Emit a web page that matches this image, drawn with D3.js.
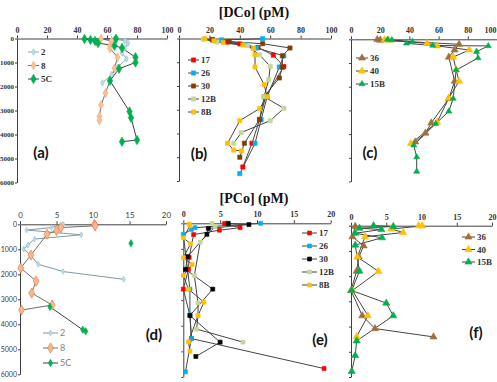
<!DOCTYPE html>
<html>
<head>
<meta charset="utf-8">
<script src="https://cdn.jsdelivr.net/npm/d3@7"></script>
<style>
  body { margin: 0; background: #fff; }
  svg { display: block; }
  .serif text { font-family: "Liberation Serif", "DejaVu Serif", serif; }
  .sans text { font-family: Lato, "Liberation Sans", sans-serif; }
</style>
</head>
<body>
<div id="chart"></div>
<script>
// ---- data: [concentration (pM), depth (m)] ----
var dcoTicks = [0, 20, 40, 60, 80, 100];
var pcoTicks = [0, 5, 10, 15, 20];
var depthTicks = [0, 1000, 2000, 3000, 4000, 5000, 6000];

// (a) DCo
var a_2  = [[65,20],[72,100],[74,200],[72,400],[70,600],[73,850],[67,1200],[63,1500],[57,1850]];
var a_8  = [[56,20],[63,100],[62,300],[62,410],[67,780],[65,1240],[59,2270],[56,2770],[55,3240],[55,3410]];
var a_5C = [[66,10],[45,20],[49,60],[52,100],[54,190],[65,300],[70,400],[79,780],[79,1000],[68,1260],[62,1760],[75,3040],[76,3300],[80,4230],[70,4300]];

// (b) DCo
var b_17  = [[22,40],[32,150],[40,230],[52,380],[62,700],[69,1180],[57,2450],[53,3420],[48,4410],[42,5410]];
var b_26  = [[55,10],[28,60],[44,250],[51,400],[69,730],[66,1200],[58,2450],[54,3420],[50,4410],[40,5690]];
var b_30  = [[22,60],[33,130],[55,220],[73,400],[68,730],[68,1210],[66,1660],[56,2450],[53,3410],[43,4410],[40,5000]];
var b_12B = [[16,30],[25,150],[45,300],[53,690],[60,1170],[59,1730],[56,2450],[69,2940],[60,3460],[41,3960],[36,4410]];
var b_8B  = [[17,0],[23,100],[29,170],[42,270],[49,420],[50,690],[50,1200],[56,1940],[58,2450],[53,2950],[40,3460],[32,4410],[36,4700],[41,4730]];

// (c) DCo
var c_36  = [[18,10],[20,40],[74,210],[71,450],[67,750],[71,1770],[67,2500],[55,3530],[51,3960],[44,4330]];
var c_40  = [[23,20],[26,40],[52,170],[59,280],[81,450],[70,750],[72,1280],[74,1770],[67,2480],[59,3500],[41,4400]];
var c_15B = [[25,10],[28,30],[42,100],[38,170],[56,260],[94,280],[86,520],[87,790],[72,1300],[70,2500],[67,3040],[58,3560],[43,4470],[45,4970],[45,5580]];

// (d) PCo
var d_2  = [[5.9,0],[4.3,130],[0.9,230],[8.4,420],[2.0,590],[1.1,830],[0.5,990],[1.5,1250],[2.5,1600],[5.9,1890],[14.2,2200]];
var d_8  = [[10.2,0],[10.3,60],[5.6,130],[5.0,250],[3.7,400],[1.5,1230],[0.1,1750],[2.2,2270],[1.6,2750],[4.4,3230],[0.2,3430]];
var d_5C = [[15.2,760], null, [4.1,3300],[8.6,4220],[9.0,4280]];

// (e) PCo
var e_17  = [[5.6,10],[7.7,170],[4.9,270],[1.4,440],[0.8,1330],[0.7,1800],[0,2570],[0.9,3600],[1.1,4500],[19.1,5670]];
var e_26  = [[10.5,0],[1.6,170],[1.1,240],[0,430],[0.9,2570],[0.9,3570],[1.1,4500],[0.3,5800]];
var e_30  = [[6.1,0],[8.9,50],[3.4,200],[3.2,430],[0.6,1300],[0.3,1800],[4.0,2570],[0.9,3600],[5.0,4640],[1.7,5200]];
var e_12B = [[3.9,0],[4.3,130],[2.3,730],[1.5,2040],[2.0,3110],[2.0,3600],[1.8,4130],[8.1,4640]];
var e_8B  = [[0.8,30],[0.9,100],[0,570],[1.0,800],[0,1340],[1.2,1610],[0,2040],[0.7,2570],[2.8,3080],[2.0,3600],[0.7,4630],[0.9,4990]];

// (f) PCo
var f_36  = [[0.6,30],[0.2,440],[1.8,800],[1.1,1240],[0.8,1800],[0,2570],[1.6,3570],[3.4,4080],[11.7,4410]];
var f_40  = [[9.6,0],[10.1,10],[5.7,130],[7.4,270],[2.0,440],[0.9,1240],[3.9,1810],[0.2,2570],[2.4,3570],[0.8,4400]];
var f_15B = [[3.2,0],[6.0,30],[1.2,100],[4.3,150],[0.6,300],[4.4,480],[0.6,770],[1.2,1800],[0.1,2570],[5.0,3070],[6.0,3570],[0.8,4570],[0.6,5150],[0.1,5780]];

var svg = d3.select("#chart").append("svg")
  .attr("width", 497).attr("height", 382);

var LINE = "#454545";

function panel(cfg) {
  var g = svg.append("g").attr("class", cfg.font);
  var x = d3.scaleLinear().domain([0, cfg.xTicks[cfg.xTicks.length - 1]]).range([cfg.x0, cfg.x1]);
  var y = d3.scaleLinear().domain([0, 6000]).range([cfg.y0, cfg.y1]);

  var xa = g.append("g").attr("transform", "translate(0," + cfg.y0 + ")")
    .call(d3.axisTop(x).tickValues(cfg.xTicks).tickSize(3).tickPadding(3).tickSizeOuter(0));
  var ya = g.append("g").attr("transform", "translate(" + cfg.x0 + ",0)")
    .call(d3.axisLeft(y).tickValues(depthTicks).tickSize(2).tickPadding(1).tickSizeOuter(0)
      .tickFormat(cfg.yLabels ? d3.format("d") : ""));
  [xa, ya].forEach(function(a) {
    a.select(".domain").attr("stroke", "#404040");
    a.selectAll(".tick line").attr("stroke", "#404040");
    a.selectAll("text").attr("fill", cfg.tickColor).style("font-size", "8px")
      .style("font-weight", cfg.font == "serif" ? "bold" : "normal");
  });
  ya.selectAll("text").style("font-size", "7px");
  // last top label at the very edge of the picture
  if (cfg.x1 > 490) {
    xa.selectAll(".tick text").filter(function(d) { return d == 100; })
      .attr("text-anchor", "end").attr("x", 497 - cfg.x1 - 1);
  }

  var line = d3.line().defined(function(d) { return d; })
    .x(function(d) { return x(d[0]); }).y(function(d) { return y(d[1]); });

  cfg.series.forEach(function(s) {
    g.append("path").attr("d", line(s.data))
      .attr("fill", "none").attr("stroke", s.line || LINE).attr("stroke-width", 1);
  });
  cfg.series.forEach(function(s) {
    var sym = d3.symbol().type(s.shape).size(s.size);
    g.selectAll(null).data(s.data.filter(function(d) { return d; })).enter()
      .append("path").attr("d", sym)
      .attr("transform", function(d) { return "translate(" + x(d[0]) + "," + y(d[1]) + ")"; })
      .attr("fill", s.color).attr("stroke", s.edge || s.color).attr("stroke-width", 0.6);
  });

  // legend
  var lg = g.append("g");
  cfg.series.forEach(function(s, i) {
    var ly = cfg.legY + i * cfg.legStep;
    lg.append("line").attr("x1", cfg.legX).attr("x2", cfg.legX + cfg.legW)
      .attr("y1", ly).attr("y2", ly).attr("stroke", s.line || LINE).attr("stroke-width", 1);
    lg.append("path").attr("d", d3.symbol().type(s.shape).size(s.size)())
      .attr("transform", "translate(" + (cfg.legX + cfg.legW / 2) + "," + ly + ")")
      .attr("fill", s.color).attr("stroke", s.edge || s.color).attr("stroke-width", 0.6);
    lg.append("text").attr("x", cfg.legX + cfg.legW + 2).attr("y", ly).attr("dy", "0.35em")
      .attr("fill", cfg.legColor).style("font-size", "9px")
      .style("font-weight", cfg.font == "serif" ? "bold" : "normal")
      .text(s.name);
  });

  svg.append("text").attr("x", cfg.labX).attr("y", cfg.labY)
    .attr("text-anchor", "middle").attr("dy", "0.35em")
    .style("font-family", "Lato, 'Liberation Sans', sans-serif")
    .style("font-weight", "bold").style("font-size", "15px").attr("fill", "#111")
    .text(cfg.label);
}

var D = d3.symbolDiamond, S = d3.symbolSquare, T = d3.symbolTriangle;

panel({ font: "serif", xTicks: dcoTicks, x0: 17, x1: 167, y0: 38.5, y1: 182.5, yLabels: true,
  tickColor: "#333", legColor: "#333", legX: 28, legY: 52, legStep: 13.5, legW: 11,
  label: "(a)", labX: 41, labY: 153,
  series: [
    { name: "2", data: a_2, color: "#b7dee8", edge: "#93c4d0", line: "#8aa6ad", shape: D, size: 12 },
    { name: "8", data: a_8, color: "#f8c19a", edge: "#f0a878", line: "#6f6f6f", shape: D, size: 22 },
    { name: "5C", data: a_5C, color: "#00b050", shape: D, size: 26, line: "#404040" }
  ] });

panel({ font: "serif", xTicks: dcoTicks, x0: 179, x1: 331, y0: 38.5, y1: 181, yLabels: false,
  tickColor: "#333", legColor: "#333", legX: 188, legY: 60, legStep: 13, legW: 11,
  label: "(b)", labX: 199, labY: 154,
  series: [
    { name: "17", data: b_17, color: "#ff0000", shape: S, size: 18 },
    { name: "26", data: b_26, color: "#00b0f0", shape: S, size: 18 },
    { name: "30", data: b_30, color: "#7f3f00", shape: S, size: 18 },
    { name: "12B", data: b_12B, color: "#c4d79b", shape: S, size: 18 },
    { name: "8B", data: b_8B, color: "#ffc000", shape: S, size: 18 }
  ] });

panel({ font: "serif", xTicks: dcoTicks, x0: 351, x1: 497, y0: 39.3, y1: 181.5, yLabels: false,
  tickColor: "#333", legColor: "#333", legX: 356, legY: 58, legStep: 13, legW: 12,
  label: "(c)", labX: 370, labY: 153,
  series: [
    { name: "36", data: c_36, color: "#a0703a", shape: T, size: 22 },
    { name: "40", data: c_40, color: "#ffc000", shape: T, size: 22 },
    { name: "15B", data: c_15B, color: "#00b050", shape: T, size: 16 }
  ] });

panel({ font: "sans", xTicks: pcoTicks, x0: 20, x1: 166, y0: 224.3, y1: 374.3, yLabels: true,
  tickColor: "#404040", legColor: "#7f7f7f", legX: 43, legY: 333, legStep: 15, legW: 15,
  label: "(d)", labX: 154, labY: 335,
  series: [
    { name: "2", data: d_2, color: "#b7dee8", edge: "#93c4d0", line: "#7f9aa0", shape: D, size: 10 },
    { name: "8", data: d_8, color: "#f8b98f", edge: "#e0703c", line: "#6f6f6f", shape: D, size: 30 },
    { name: "5C", data: d_5C, color: "#00b050", shape: D, size: 16, line: "#404040" }
  ] });

panel({ font: "serif", xTicks: pcoTicks, x0: 183.3, x1: 330.7, y0: 223.3, y1: 377, yLabels: false,
  tickColor: "#333", legColor: "#333", legX: 302, legY: 233, legStep: 13, legW: 15,
  label: "(e)", labX: 320, labY: 340,
  series: [
    { name: "17", data: e_17, color: "#ff0000", shape: S, size: 16 },
    { name: "26", data: e_26, color: "#00b0f0", shape: S, size: 16 },
    { name: "30", data: e_30, color: "#000000", shape: S, size: 16 },
    { name: "12B", data: e_12B, color: "#c4d79b", shape: S, size: 16 },
    { name: "8B", data: e_8B, color: "#ffc000", shape: S, size: 16 }
  ] });

panel({ font: "serif", xTicks: pcoTicks, x0: 351, x1: 492, y0: 225.7, y1: 377, yLabels: false,
  tickColor: "#333", legColor: "#333", legX: 462, legY: 237, legStep: 12.5, legW: 13,
  label: "(f)", labX: 476, labY: 333,
  series: [
    { name: "36", data: f_36, color: "#a0703a", shape: T, size: 22 },
    { name: "40", data: f_40, color: "#ffc000", shape: T, size: 22 },
    { name: "15B", data: f_15B, color: "#00b050", shape: T, size: 22 }
  ] });

// titles
[["[DCo] (pM)", 12], ["[PCo] (pM)", 198]].forEach(function(t) {
  svg.append("text").attr("x", 254).attr("y", t[1]).attr("dy", "0.35em")
    .attr("text-anchor", "middle")
    .style("font-family", "'Liberation Serif', serif").style("font-weight", "bold")
    .style("font-size", "14px").attr("fill", "#111").text(t[0]);
});
</script>
</body>
</html>
